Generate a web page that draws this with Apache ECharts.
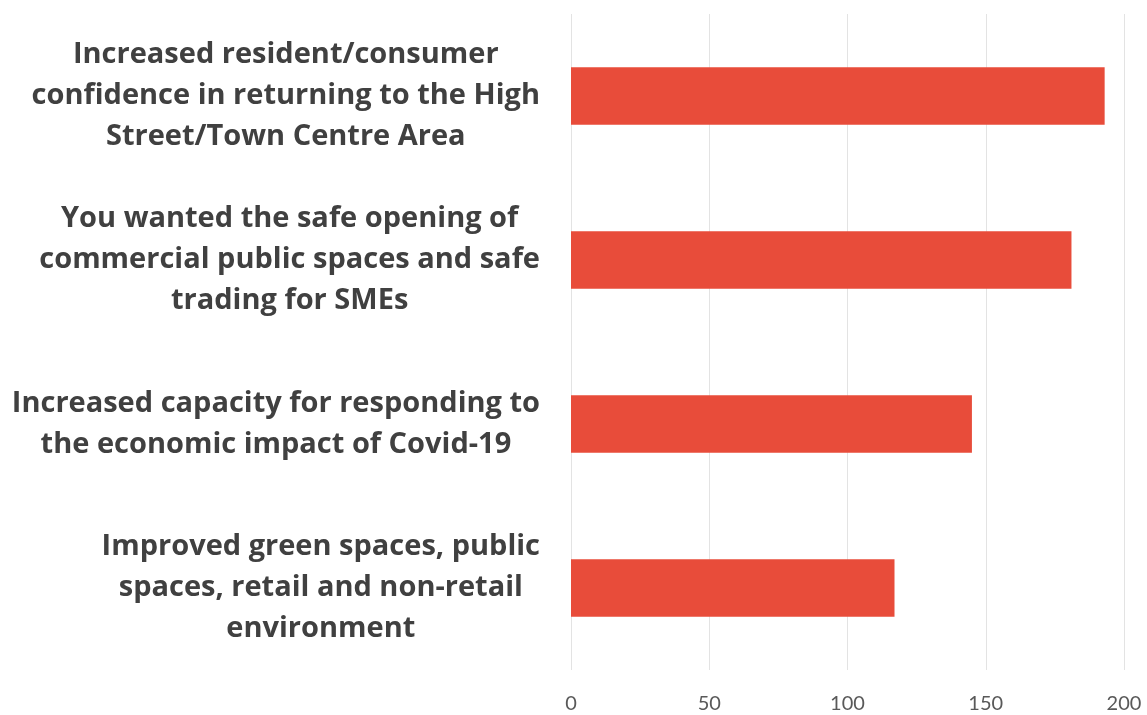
<!DOCTYPE html>
<html>
<head>
<meta charset="utf-8">
<script src="https://cdn.jsdelivr.net/npm/echarts@6/dist/echarts.min.js"></script>
<style>
  html, body { margin: 0; padding: 0; background: #ffffff; }
  #chart { width: 1147px; height: 715px; }
</style>
</head>
<body>
<div id="chart"></div>
<script>
// Outcomes named by respondents, one bar per outcome (top to bottom)
const categories = [
  'Increased resident/consumer\nconfidence in returning to the High\nStreet/Town Centre Area',
  'You wanted the safe opening of\ncommercial public spaces and safe\ntrading for SMEs',
  'Increased capacity for responding to\nthe economic impact of Covid-19',
  'Improved green spaces, public\nspaces, retail and non-retail\nenvironment'
];
const counts = [193, 181, 145, 117];
const xTicks = { min: 0, max: 200, interval: 50 };

const chart = echarts.init(document.getElementById('chart'), null, { renderer: 'canvas' });

chart.setOption({
  backgroundColor: '#ffffff',
  animation: false,
  grid: { left: 571, right: 23, top: 14, bottom: 45, containLabel: false },
  xAxis: {
    type: 'value',
    min: xTicks.min,
    max: xTicks.max,
    interval: xTicks.interval,
    axisLine: { show: false },
    axisTick: { show: false },
    splitLine: { show: true, lineStyle: { color: '#e3e3e3', width: 1 } },
    axisLabel: {
      margin: 24,
      color: '#595959',
      fontSize: 20,
      fontFamily: 'Lato, "Noto Sans", sans-serif'
    }
  },
  yAxis: {
    type: 'category',
    inverse: true,
    data: categories,
    axisLine: { show: false },
    axisTick: { show: false },
    axisLabel: {
      margin: 31,
      align: 'right',
      formatter: function (v) {
        return v.split('\n').map(function (line) { return '{t|' + line + '}'; }).join('\n');
      },
      rich: {
        t: {
          align: 'center',
          color: '#404040',
          fontSize: 29,
          fontWeight: 'bold',
          lineHeight: 41,
          fontFamily: '"Open Sans", "Noto Sans", sans-serif'
        }
      }
    }
  },
  series: [{
    type: 'bar',
    data: counts,
    barWidth: '35%',
    itemStyle: { color: '#e84c3a' }
  }]
});
</script>
</body>
</html>
